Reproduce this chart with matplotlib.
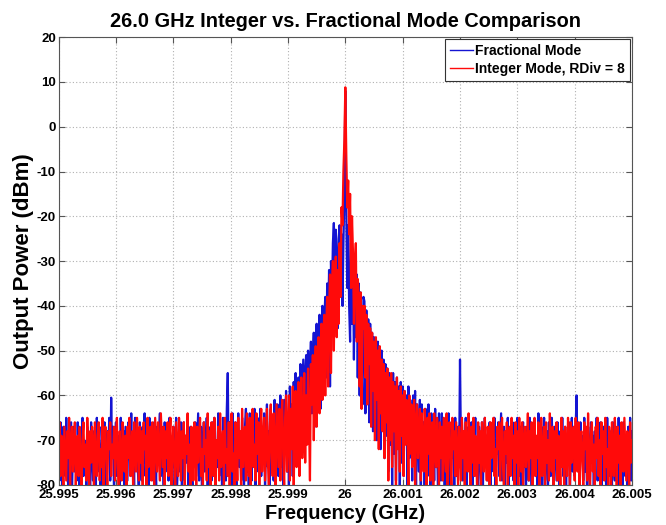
import numpy as np
import matplotlib
matplotlib.use("Agg")
import matplotlib.pyplot as plt
from matplotlib.lines import Line2D

plt.rcParams['font.family'] = ['Liberation Sans', 'DejaVu Sans']
plt.rcParams['font.weight'] = 'bold'
plt.rcParams['axes.unicode_minus'] = False

# spectre : 601 points de 25.995 à 26.005 GHz (dBm)
f_start, f_stop = 25.995, 26.005

frac_mode = [
    -68, -79, -66, -74, -81, -67, -72, -78, -65, -76, -80, -69, -73, -66, -82, -71, -67, -77, -70, -79,
    -66, -75, -81, -68, -72, -65, -78, -70, -74, -80, -67, -76, -70, -82, -66, -73, -79, -68, -71, -80,
    -65, -77, -69, -74, -81, -67, -72, -78, -66, -75, -80, -68, -73, -65, -79, -60.5, -74, -67, -82, -71,
    -66, -78, -72, -69, -80, -65, -74, -77, -68, -81, -67, -73, -79, -66, -70, -76, -64, -78, -71, -80,
    -65, -74, -69, -77, -82, -66, -72, -79, -67, -75, -64, -78, -70, -67, -81, -65, -73, -76, -69, -79,
    -66, -72, -80, -67, -75, -69, -64, -78, -67, -73, -81, -66, -77, -68, -71, -79, -65, -74, -70, -82,
    -67, -76, -70, -65, -80, -74, -68, -77, -66, -81, -72, -66, -79, -69, -75, -65, -81, -70, -67, -76,
    -80, -68, -73, -66, -78, -71, -64, -79, -74, -67, -82, -70, -66, -77, -72, -65, -80, -68, -75, -67,
    -79, -66, -73, -65, -81, -70, -76, -64, -78, -69, -72, -80, -65, -74, -68, -79, -63, -55, -77, -66,
    -71, -82, -64, -73, -78, -66, -80, -70, -64, -76, -69, -79, -65, -74, -81, -67, -63, -77, -70, -80,
    -64, -72, -79, -66, -75, -63, -80, -69, -65, -77, -71, -63, -78, -67, -74, -64, -81, -70, -62, -76,
    -68, -80, -63, -73, -66, -79, -61, -75, -69, -62, -78, -70, -60, -76, -66, -81, -61, -72, -59, -77,
    -64, -80, -58, -71, -62, -78, -57, -68, -55, -74, -61, -56, -75, -53, -66, -59, -52, -71, -55, -51,
    -66, -50, -69, -54, -48, -64, -52, -46, -67, -49, -44, -60, -47, -42, -63, -45, -40, -58, -43, -38,
    -56, -35, -44, -32, -58, -30, -38, -26, -21.5, -34, -23, -30, -45, -25, -22, -33, -24, -40, -26, -15,
    8.0, -19, -36, -22, -40, -48, -26, -44, -29, -52, -31, -47, -33, -56, -35, -60, -37, -54, -62, -38,
    -39, -64, -41, -58, -43, -66, -44, -61, -46, -68, -47, -63, -49, -70, -48, -65, -51, -72, -50, -67,
    -52, -74, -53, -69, -54, -77, -55, -71, -56, -80, -55, -73, -57, -79, -56, -70, -58, -82, -57, -75,
    -58, -78, -59, -70, -60, -81, -58, -74, -61, -66, -79, -60, -72, -59, -80, -62, -68, -77, -61, -83,
    -62, -74, -66, -80, -63, -71, -78, -62, -69, -81, -64, -73, -67, -79, -63, -76, -70, -82, -64, -72,
    -79, -64, -75, -68, -81, -65, -72, -77, -64, -70, -80, -66, -74, -69, -82, -65, -78, -71, -67, -76,
    -52, -72, -66, -79, -69, -75, -65, -81, -70, -67, -77, -73, -66, -80, -68, -74, -65, -78, -71, -82,
    -67, -73, -79, -66, -80, -70, -65, -76, -69, -79, -72, -66, -81, -68, -74, -77, -65, -80, -70, -73,
    -66, -78, -71, -64, -79, -74, -67, -82, -69, -75, -65, -80, -72, -68, -77, -66, -79, -70, -74, -81,
    -65, -73, -78, -67, -80, -69, -66, -76, -71, -82, -67, -74, -79, -65, -72, -80, -68, -75, -66, -78,
    -70, -81, -64, -74, -77, -67, -80, -69, -65, -79, -72, -68, -82, -66, -75, -78, -65, -71, -80, -67,
    -73, -79, -66, -70, -81, -68, -76, -65, -78, -72, -67, -80, -69, -74, -66, -82, -71, -65, -77, -70,
    -78, -67, -60, -76, -72, -80, -66, -74, -69, -79, -65, -77, -71, -82, -67, -73, -80, -66, -75, -69,
    -81, -68, -74, -65, -79, -70, -77, -66, -80, -72, -67, -76, -69, -82, -65, -73, -78, -68, -71, -80,
    -66, -75, -79, -67, -72, -81, -65, -77, -70, -68, -80, -66, -74, -78, -69, -82, -67, -73, -65, -79,
    -68,
]

int_mode = [
    -72, -66, -78, -69, -75, -80, -67, -73, -79, -68, -74, -65, -81, -70, -67, -77, -72, -66, -80, -71,
    -69, -78, -67, -74, -82, -70, -66, -76, -71, -79, -65, -73, -80, -68, -75, -67, -71, -81, -66, -74,
    -78, -69, -66, -79, -72, -76, -65, -80, -70, -67, -75, -81, -68, -72, -66, -78, -71, -74, -67, -79,
    -70, -65, -76, -82, -68, -73, -79, -66, -72, -77, -69, -80, -67, -74, -65, -78, -71, -68, -81, -66,
    -73, -77, -65, -70, -79, -67, -75, -68, -80, -66, -72, -69, -81, -65, -76, -70, -67, -79, -66, -74,
    -80, -65, -71, -77, -66, -73, -79, -64, -70, -76, -67, -81, -68, -74, -66, -78, -70, -65, -80, -72,
    -67, -75, -81, -66, -72, -78, -65, -70, -79, -68, -74, -66, -80, -69, -73, -64, -77, -71, -82, -67,
    -74, -79, -66, -71, -80, -67, -75, -69, -65, -78, -72, -81, -66, -73, -70, -79, -64, -76, -68, -80,
    -66, -73, -78, -65, -81, -70, -74, -67, -79, -64, -76, -71, -68, -80, -65, -75, -72, -78, -66, -81,
    -69, -64, -77, -73, -80, -66, -71, -79, -65, -74, -68, -81, -63, -76, -70, -67, -79, -64, -73, -78,
    -65, -80, -68, -63, -76, -71, -79, -64, -73, -66, -81, -69, -63, -77, -70, -65, -79, -72, -63, -75,
    -80, -67, -62, -74, -78, -64, -71, -81, -62, -69, -76, -63, -79, -66, -61, -73, -80, -65, -60, -77,
    -68, -60, -79, -63, -72, -58, -81, -65, -59, -76, -70, -57, -78, -62, -56, -74, -67, -55, -75, -60,
    -71, -54, -65, -79, -53, -62, -51, -70, -56, -49, -67, -52, -47, -64, -50, -44, -61, -46, -42, -60,
    -45, -38, -58, -41, -33, -55, -36, -30, -50, -34, -29, -47, -32, -44, -26, -38, -18, -22, -10, -3,
    8.8, -6, -18, -12, -24, -15, -36, -20, -28, -44, -31, -26, -48, -34, -38, -58, -37, -63, -40, -45,
    -40, -56, -42, -62, -44, -53, -45, -67, -46, -59, -48, -70, -47, -61, -50, -72, -49, -64, -52, -68,
    -53, -74, -55, -66, -54, -79, -56, -70, -55, -76, -57, -68, -58, -80, -56, -72, -59, -77, -58, -69,
    -60, -78, -59, -71, -61, -67, -80, -60, -73, -62, -76, -65, -61, -81, -66, -62, -74, -70, -63, -79,
    -64, -71, -77, -63, -68, -80, -65, -73, -64, -79, -69, -66, -82, -64, -72, -76, -65, -70, -81, -66,
    -74, -67, -79, -65, -71, -77, -64, -80, -69, -66, -75, -81, -65, -72, -68, -78, -66, -73, -80, -67,
    -71, -79, -65, -74, -68, -81, -66, -72, -77, -64, -70, -80, -67, -75, -65, -78, -69, -73, -82, -66,
    -75, -68, -80, -66, -71, -77, -65, -73, -79, -67, -70, -81, -66, -74, -69, -65, -78, -72, -80, -67,
    -72, -66, -79, -70, -65, -76, -81, -68, -73, -66, -80, -71, -67, -78, -65, -74, -69, -82, -66, -75,
    -68, -80, -65, -73, -77, -66, -81, -70, -67, -76, -72, -64, -79, -68, -74, -66, -80, -71, -65, -78,
    -69, -74, -66, -81, -71, -65, -78, -73, -67, -80, -66, -75, -70, -79, -64, -72, -77, -67, -82, -68,
    -74, -66, -79, -69, -72, -80, -65, -76, -68, -81, -67, -73, -78, -65, -71, -80, -66, -75, -70, -67,
    -79, -65, -73, -77, -66, -82, -70, -68, -75, -80, -66, -72, -67, -79, -64, -74, -81, -69, -66, -77,
    -71, -80, -67, -74, -65, -78, -70, -81, -66, -73, -68, -79, -65, -76, -72, -80, -67, -70, -82, -66,
    -73, -78, -65, -71, -80, -67, -75, -69, -81, -66, -74, -77, -65, -72, -79, -68, -70, -82, -66, -75,
    -70,
]

xticks = [25.995, 25.996, 25.997, 25.998, 25.999, 26.0,
          26.001, 26.002, 26.003, 26.004, 26.005]
xtick_labels = ['25.995', '25.996', '25.997', '25.998', '25.999', '26',
                '26.001', '26.002', '26.003', '26.004', '26.005']
yticks = [-80, -70, -60, -50, -40, -30, -20, -10, 0, 10, 20]

freq_frac = np.linspace(f_start, f_stop, len(frac_mode))
freq_int = np.linspace(f_start, f_stop, len(int_mode))

fig = plt.figure(figsize=(6.66, 5.25), dpi=100)
ax = fig.add_axes([0.088, 0.0762, 0.861, 0.853])

ax.plot(freq_frac, frac_mode, color='#1414d2', lw=1.6)
ax.plot(freq_int, int_mode, color='#ff0a0a', lw=1.6)

ax.set_xlim(f_start, f_stop)
ax.set_ylim(-80, 20)
ax.set_xticks(xticks)
ax.set_xticklabels(xtick_labels)
ax.set_yticks(yticks)
ax.grid(True, color='#b0b0b0', linestyle=(0, (1, 2)), lw=0.8)
ax.tick_params(direction='in', length=4, top=True, right=True,
               labelsize=9.5, color='#555555')
ax.tick_params(axis='x', pad=3)
ax.tick_params(axis='y', pad=2)
for s in ax.spines.values():
    s.set_color('#555555')
    s.set_linewidth(0.8)

ax.set_title('26.0 GHz Integer vs. Fractional Mode Comparison',
             fontsize=14.4, fontweight='bold', pad=7)
ax.set_xlabel('Frequency (GHz)', fontsize=14.4, fontweight='bold', labelpad=2)
ax.set_ylabel('Output Power (dBm)', fontsize=16, fontweight='bold', labelpad=2)

handles = [Line2D([], [], color='#1414d2', lw=1),
           Line2D([], [], color='#ff0a0a', lw=1)]
leg = ax.legend(handles, ['Fractional Mode', 'Integer Mode, RDiv = 8'],
                loc='upper right', fontsize=10, fancybox=False,
                framealpha=1, edgecolor='#333333', handlelength=1.65,
                handletextpad=0.15, borderpad=0.35, labelspacing=0.3,
                borderaxespad=0.15)
leg.get_frame().set_linewidth(0.8)

fig.savefig('out.png', dpi=100)
